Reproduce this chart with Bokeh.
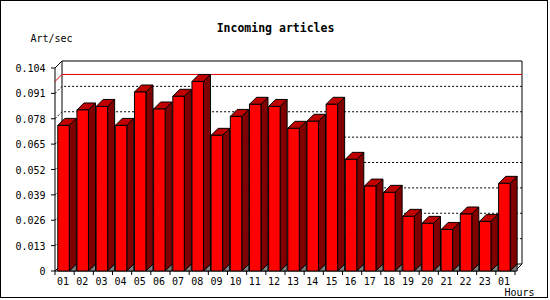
from bokeh.plotting import figure
from bokeh.models import Range1d
from bokeh.core.properties import value
from bokeh.embed import file_html
from bokeh.resources import INLINE

# ---------------- data ----------------
hours = ["01", "02", "03", "04", "05", "06", "07", "08", "09", "10", "11", "12",
         "13", "14", "15", "16", "17", "18", "19", "20", "21", "22", "23", "01"]
rates = [0.0746, 0.0825, 0.0843, 0.0746, 0.0917, 0.0830, 0.0895, 0.0971,
         0.0695, 0.0792, 0.0854, 0.0843, 0.0731, 0.0767, 0.0854, 0.0572,
         0.0435, 0.0403, 0.0280, 0.0244, 0.0213, 0.0292, 0.0254, 0.0449]
y_ticks = [0, 0.013, 0.026, 0.039, 0.052, 0.065, 0.078, 0.091, 0.104]
y_tick_labels = ["0", "0.013", "0.026", "0.039", "0.052", "0.065", "0.078", "0.091", "0.104"]
title_text = "Incoming articles"
y_unit = "Art/sec"
x_unit = "Hours"

# ---------------- layout (page pixels) ----------------
X0, Y0 = 54.5, 270.5          # page position of (0, 0)
SLOT = 460 / 24               # pixels per hour slot
K = 203 / 0.104               # pixels per unit of rate
DEPTH = 7                     # 3-D depth in pixels
FONT = "DejaVu Sans Mono"


def xd(px):
    return (px - X0) / SLOT


def yd(py):
    return (Y0 - py) / K


p = figure(width=548, height=298,
           x_range=Range1d(xd(1), xd(549)), y_range=Range1d(yd(299), yd(1)),
           output_backend="svg", toolbar_location=None,
           x_axis_location=None, y_axis_location=None,
           min_border=0)
p.styles = {"border": "1px solid black"}
p.title.visible = False
p.outline_line_color = None
p.grid.visible = False
p.background_fill_color = "white"
p.border_fill_color = "white"

n = len(rates)
dx = DEPTH / SLOT
dy = DEPTH / K
top = y_ticks[-1]

# dotted grid on the back wall and the left wall
gx, gy = [], []
for t in y_ticks[1:-1]:
    gx.append([0, dx, n + dx])
    gy.append([t, t + dy, t + dy])
p.multi_line(gx, gy, line_color="black", line_width=1, line_dash="2 2")

# solid frame
fx = [[dx, n + dx], [n + dx, n + dx], [dx, dx], [0, dx], [0, 0], [0, n], [n, n + dx], [dx, n + dx], [0, dx]]
fy = [[top + dy, top + dy], [dy, top + dy], [dy, top + dy], [top, top + dy], [0, top], [0, 0], [0, dy], [dy, dy], [0, dy]]
p.multi_line(fx, fy, line_color="black", line_width=1)

# y tick marks (left of the front axis)
tick_w = 4 / SLOT
p.segment(x0=[-tick_w] * len(y_ticks), y0=y_ticks, x1=[0] * len(y_ticks), y1=y_ticks,
          line_color="black", line_width=1)

# max line
m = max(rates)
p.line([0, dx, n + dx], [m, m + dy, m + dy], line_color="#e00000", line_width=1)

# x tick marks at slot boundaries
tick_len = 4 / K
p.segment(x0=list(range(n + 1)), y0=[0] * (n + 1), x1=list(range(n + 1)), y1=[-tick_len] * (n + 1),
          line_color="black", line_width=1)

# bars
off = 2.8 / SLOT
w = 11.5 / SLOT
lefts = [i + off for i in range(n)]
rights = [l + w for l in lefts]
tri_x = [[r, r + dx, r + dx] for r in rights]
tri_y = [[0, dy, 0] for _ in rights]
p.patches(tri_x, tri_y, fill_color="#808080", line_color="black", line_width=1)
side_x = [[r, r, r + dx, r + dx] for r in rights]
side_y = [[0, v, v + dy, dy] for v in rates]
p.patches(side_x, side_y, fill_color="#800000", line_color="black", line_width=1)
top_x = [[l, r, r + dx, l + dx] for l, r in zip(lefts, rights)]
top_y = [[v, v, v + dy, v + dy] for v in rates]
p.patches(top_x, top_y, fill_color="#c00000", line_color="black", line_width=1)
p.quad(left=lefts, right=rights, bottom=[0] * n, top=rates,
       fill_color="#ff0000", line_color="black", line_width=1)

# tick labels
p.text(x=[0] * len(y_ticks), y=y_ticks, text=y_tick_labels, x_offset=-9.5,
       text_align="right", text_baseline="middle", text_font=value(FONT),
       text_font_size=value("10px"), text_color="black")
centers = [i + 0.5 for i in range(n)]
p.text(x=centers, y=[0] * n, text=hours, x_offset=-1.5, y_offset=10,
       text_align="center", text_baseline="middle", text_font=value(FONT),
       text_font_size=value("10px"), text_color="black")

# titles
p.text(x=[xd(275)], y=[yd(27.5)], text=[title_text], text_align="center", text_baseline="middle",
       text_font=value(FONT), text_font_style="bold", text_font_size=value("11.5px"), text_color="black")
p.text(x=[xd(30)], y=[yd(37.5)], text=[y_unit], text_align="left", text_baseline="middle",
       text_font=value(FONT), text_font_size=value("10px"), text_color="black")
p.text(x=[xd(504)], y=[yd(292)], text=[x_unit], text_align="left", text_baseline="middle",
       text_font=value(FONT), text_font_size=value("10px"), text_color="black")

open("out.html", "w").write(file_html(p, INLINE))
